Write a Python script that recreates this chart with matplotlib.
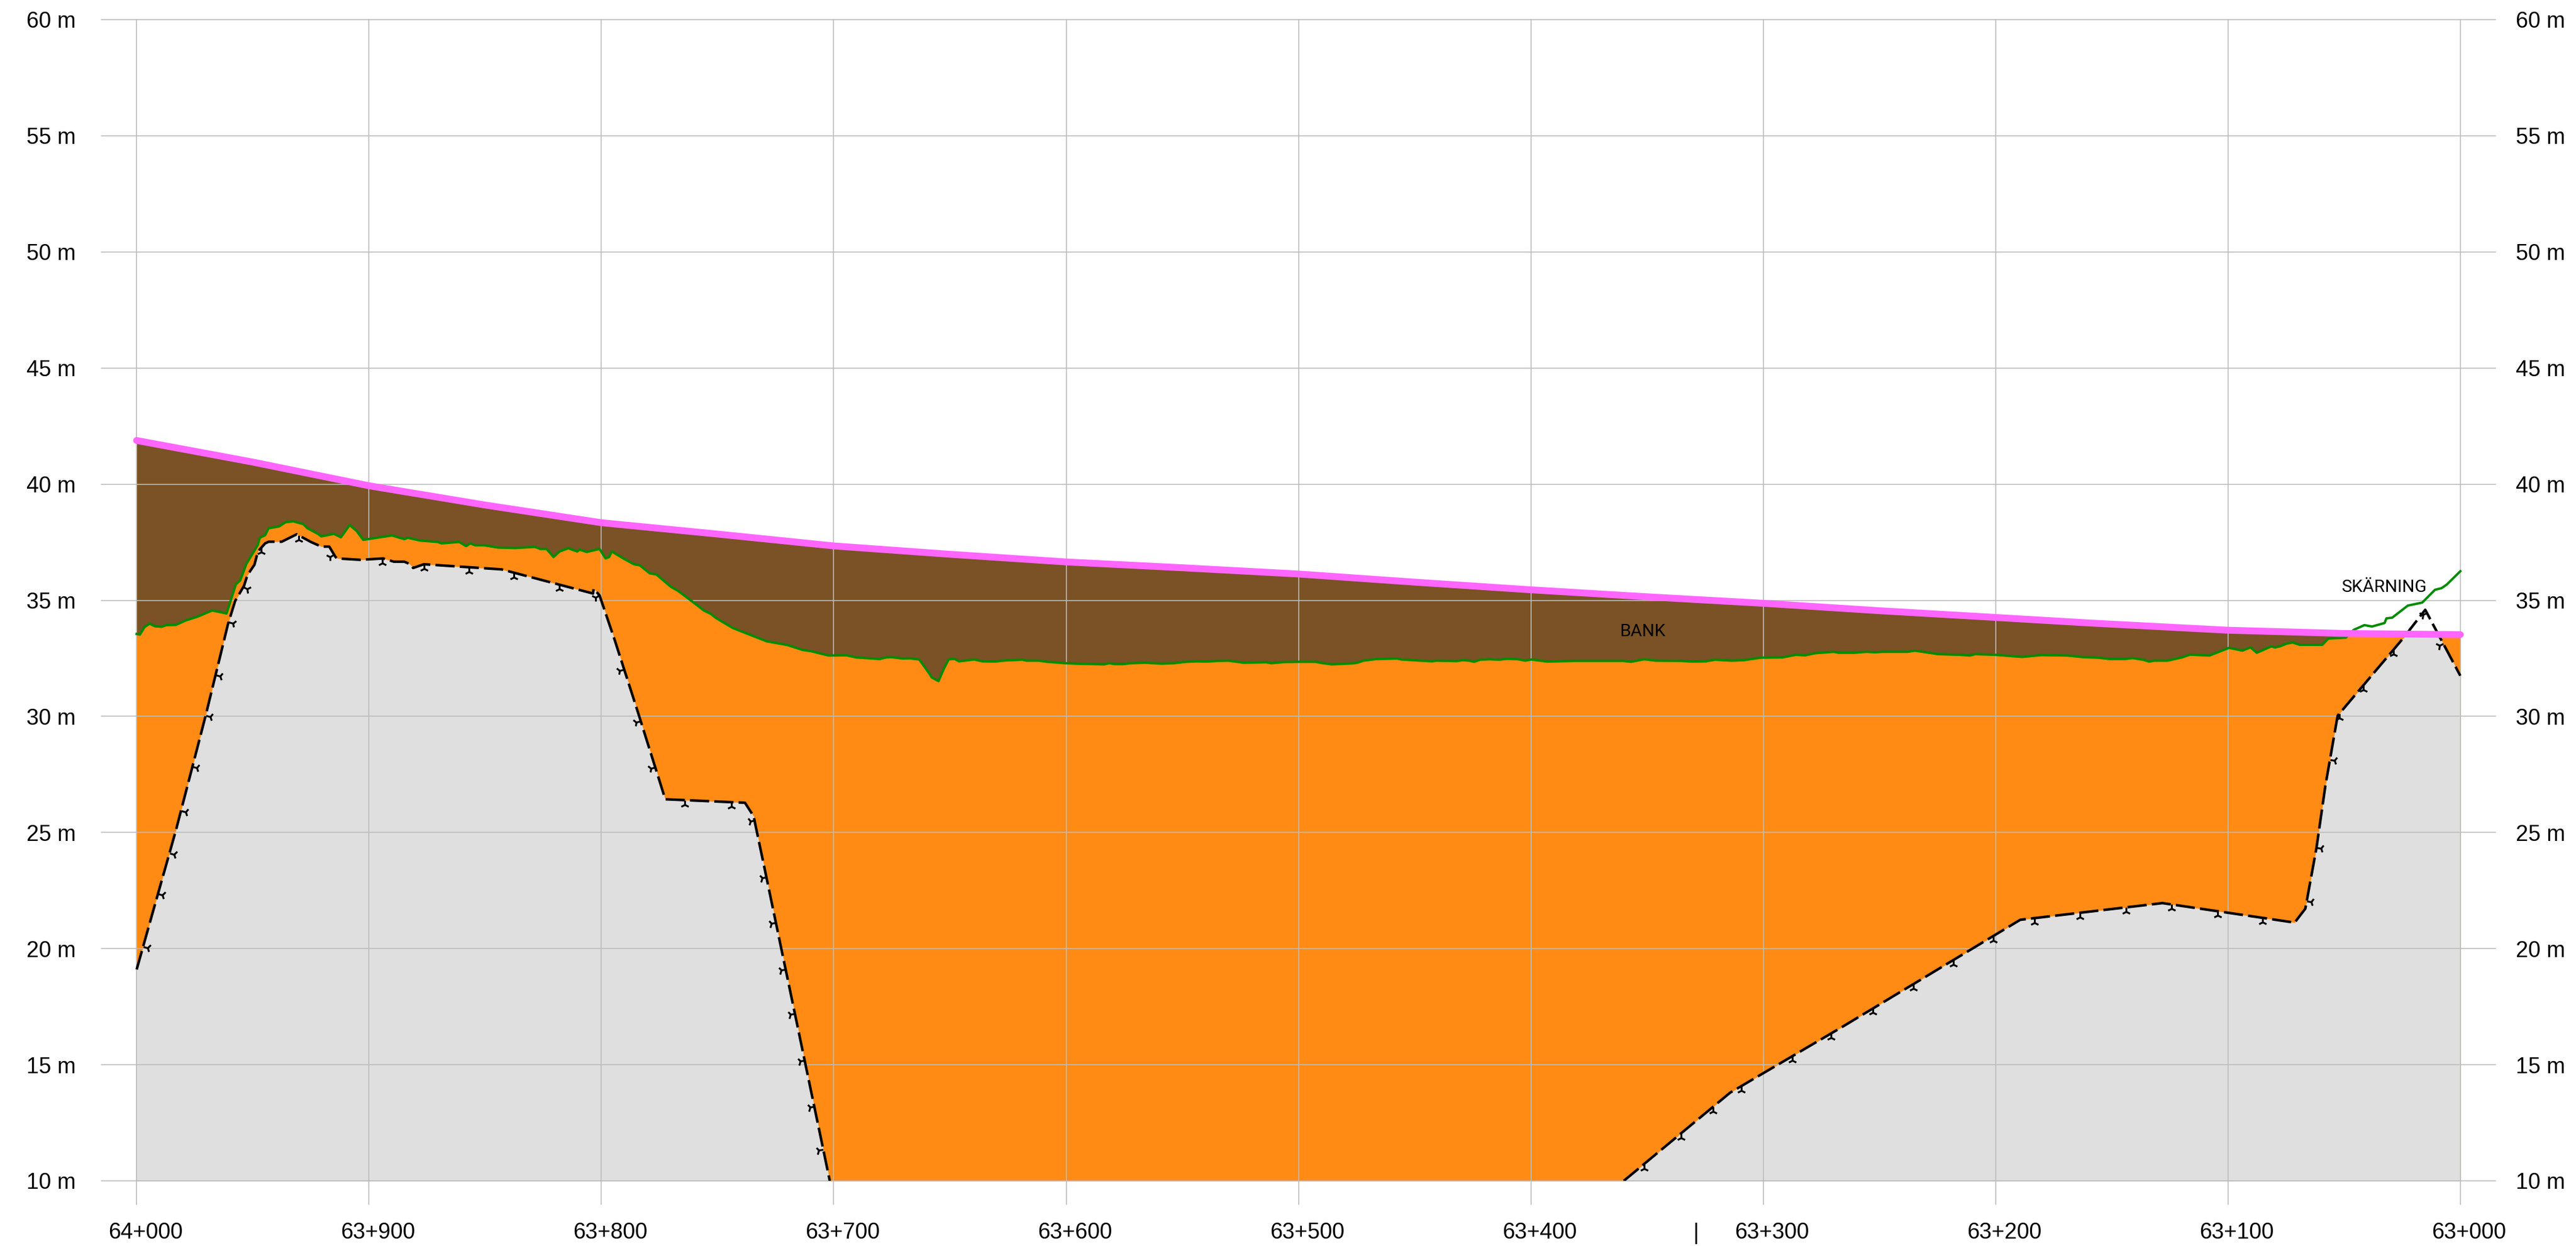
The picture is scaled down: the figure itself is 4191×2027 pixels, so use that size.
import numpy as np
import matplotlib
matplotlib.use("Agg")
import matplotlib.pyplot as plt
from matplotlib.markers import MarkerStyle
from matplotlib.transforms import Affine2D, blended_transform_factory, ScaledTranslation

plt.rcParams['font.family'] = ['Liberation Sans', 'DejaVu Sans']

# distance along the section in metres from 64+000 (axis runs 64+000 -> 63+000)
road_d = [0, 50, 100, 150, 200, 250, 300, 350, 400, 450, 500, 550, 600, 650, 700,
          750, 800, 840.6, 900, 950, 1000]
road_z = [41.88, 40.95, 39.93, 39.10, 38.34, 37.85, 37.34, 36.98, 36.65, 36.40, 36.13,
          35.78, 35.45, 35.15, 34.87, 34.55, 34.26, 34.02, 33.71, 33.57, 33.52]

terrain_d = [0, 1.4, 3.4, 5.6, 7.9, 10.8, 12.8, 16.9, 21.1, 26.4, 32.5, 38.7, 42.7, 44.6, 47.2,
             52.2, 53, 55.3, 56.8, 61.3, 64.1, 67.4, 71.7, 73.5, 78, 79.5, 84.9, 87.9, 91.7, 94.7,
             97.5, 100.8, 109.9, 115.2, 116.7, 122, 129.6, 131.2, 138.8, 141.8, 143.6, 145.6, 149.4,
             155.5, 163, 171.4, 173.7, 176.4, 179.4, 182, 185.8, 189.6, 190.7, 193.7, 199.2, 201.8,
             203.3, 204.5, 209.8, 214, 216.6, 220.8, 223.7, 229.9, 232.9, 238.8, 244.1, 247, 249.4,
             256.5, 260, 271.2, 280.1, 286.6, 290.1, 297.8, 305.5, 309.6, 319.7, 322.6, 325, 329.7,
             332.7, 336.8, 341.5, 342.1, 345.1, 347.4, 349.5, 352.1, 353.9, 360.4, 364, 369.3, 374,
             381.2, 383, 388.2, 391.8, 399.7, 404.1, 416.4, 418.6, 420.9, 424.4, 427.9, 434.1, 441.1,
             446.4, 451.7, 456.1, 460.5, 465.8, 469.8, 476.4, 486.1, 488.3, 494, 500, 507.3, 509.9,
             514.3, 523.1, 525.3, 528, 533.7, 542.5, 544.3, 557.5, 559.3, 568.1, 570.7, 573.4, 575.6,
             578.2, 582.2, 586.2, 589.7, 594.5, 597.6, 600.3, 606.9, 620.1, 639.5, 643.1, 648.8,
             653.7, 664.2, 669.5, 675.3, 679.2, 686.3, 691.6, 699.1, 708.3, 714, 718, 722.4, 730.3,
             732.5, 739.2, 744.4, 748, 751.5, 762.1, 765.2, 775.3, 785, 789, 791.2, 800, 811.5, 819.8,
             830.9, 837.9, 844, 849.3, 855.5, 859, 863.4, 866.1, 868.3, 874, 880.2, 883.7, 892.1,
             896.1, 900.5, 906.2, 909.7, 912.4, 918.6, 920.3, 922.5, 925.2, 927.8, 930.9, 940.6,
             943.2, 950.7, 954.2, 958.7, 962, 967.4, 968.2, 970.7, 977.4, 983.6, 989.1, 991.9, 994.1,
             1000]
terrain_z = [33.55, 33.52, 33.85, 33.99, 33.88, 33.86, 33.93, 33.94, 34.13, 34.30, 34.56, 34.43, 35.68, 35.86, 36.56,
             37.39, 37.69, 37.80, 38.10, 38.18, 38.36, 38.40, 38.28, 38.10, 37.86, 37.75, 37.86, 37.71, 38.24, 37.98,
             37.60, 37.65, 37.79, 37.63, 37.69, 37.57, 37.51, 37.45, 37.51, 37.33, 37.45, 37.37, 37.37,
             37.27, 37.25, 37.30, 37.21, 37.21, 36.86, 37.10, 37.24, 37.10, 37.18, 37.08, 37.21, 36.80,
             36.86, 37.10, 36.78, 36.55, 36.50, 36.16, 36.11, 35.58, 35.41, 34.97, 34.56, 34.42, 34.23,
             33.81, 33.67, 33.23, 33.07, 32.86, 32.81, 32.62, 32.63, 32.54, 32.47, 32.54, 32.55, 32.49,
             32.50, 32.45, 31.79, 31.68, 31.52, 32.05, 32.46, 32.47, 32.37, 32.45, 32.37, 32.36, 32.41,
             32.44, 32.40, 32.40, 32.35, 32.29, 32.27, 32.24, 32.29, 32.25, 32.25, 32.29, 32.31, 32.27,
             32.29, 32.35, 32.37, 32.36, 32.39, 32.40, 32.31, 32.33, 32.29, 32.34, 32.35, 32.35, 32.30,
             32.24, 32.28, 32.31, 32.40, 32.47, 32.49, 32.45, 32.37, 32.40, 32.38, 32.42, 32.40, 32.35,
             32.44, 32.46, 32.44, 32.48, 32.46, 32.40, 32.45, 32.36, 32.39, 32.39, 32.35, 32.46,
             32.40, 32.39, 32.36, 32.37, 32.44, 32.40, 32.42, 32.53, 32.54, 32.65, 32.63, 32.72, 32.78,
             32.74, 32.74, 32.78, 32.76, 32.78, 32.78, 32.83, 32.68, 32.65, 32.62, 32.68, 32.65, 32.56, 32.64,
             32.62, 32.55, 32.53, 32.47, 32.47, 32.51, 32.44, 32.36, 32.40, 32.40, 32.54, 32.66, 32.62,
             32.78, 32.95, 32.83, 32.97, 32.74, 33.01, 32.97, 33.02, 33.13, 33.18, 33.08, 33.08,
             33.35, 33.39, 33.73, 33.93, 33.87, 34.02, 34.22, 34.25, 34.77, 34.90, 35.45, 35.52, 35.67,
             36.25]

ground_left_d = [0, 17, 29.8, 39.3, 42.4, 46.2, 47.7, 50.7, 52.2, 55.3, 56.8, 62.4, 68.9, 75, 79.5, 82.9,
                 85.6, 86.4, 96.2, 106.1, 110.7, 115.2, 117.5, 119, 123.6, 157, 178.2, 196.4, 196.7, 199.2,
                 205.7, 216.3, 227.5, 261.8, 265.6, 266.2, 269.5, 298.3]
ground_left_z = [19.1, 25.13, 30.07, 33.97, 34.97, 35.62, 36.09, 36.53, 37.1, 37.45, 37.52, 37.52, 37.84, 37.51, 37.31, 37.31,
                 36.86, 36.8, 36.74, 36.8, 36.66, 36.66, 36.56, 36.39, 36.55, 36.33, 35.77, 35.29, 35.5, 35.21,
                 33.3, 30.0, 26.43, 26.28, 25.69, 25.37, 23.8, 10.0]
ground_right_d = [640, 685.8, 734.7, 810.6, 871.8, 928.7, 933.3, 938.1, 941.9, 947.2, 975.2, 984.9, 1000]
ground_right_z = [10.0, 13.8, 16.67, 21.24, 21.96, 21.12, 21.72, 24.34, 26.99, 30.03, 33.34, 34.59, 31.75]

hachure_d = [2.8, 9.2, 14.1, 19.1, 24, 29.7, 34, 39.6, 45.9, 53.7, 69.7, 84.9, 105.6, 123.6, 142.9, 162.3,
             182, 199, 209.8, 216.9, 223.2, 235.8, 255.9, 265.9, 271, 275.1, 279.3, 283.3, 287.5, 291.6, 295.5,
             648.7, 664.6, 678.4, 690.5, 712.4, 729.3, 747.3, 764.6, 781.8, 798.9, 816.7, 836.4, 856.1, 875.6,
             895.6, 915, 933.9, 938.1, 943.9, 947.9, 958.2, 971.2, 985.6, 992.6]

x_ticks = list(range(0, 1001, 100))
x_labels = ['64+000', '63+900', '63+800', '63+700', '63+600', '63+500',
            '63+400', '63+300', '63+200', '63+100', '63+000']
y_ticks = list(range(10, 61, 5))
y_labels = [f'{v} m' for v in y_ticks]

W, H = 4191, 2027
fig = plt.figure(figsize=(W / 100, H / 100), dpi=100, facecolor='white')
L, R, T, B = 165, 4060, 32, 1921
ax = fig.add_axes([L / W, 1 - B / H, (R - L) / W, (B - T) / H])
PX = 378.05 / 100
ax.set_xlim((L - 222.3) / PX, (R - 222.3) / PX)
ax.set_ylim(10, 60)

GRID = '#bcbcbc'
ax.set_xticks(x_ticks, x_labels)
ax.set_yticks(y_ticks, y_labels)
ax.grid(True, color=GRID, lw=1.15, clip_on=False)
for ln in ax.get_xgridlines() + ax.get_ygridlines():
    ln.set_clip_on(False)
ax.tick_params(axis='x', length=28, width=1.15, color=GRID, pad=20, labelsize=26)
ax.tick_params(axis='y', length=0, pad=30, labelsize=26)
shift = ScaledTranslation(14 / 100, 0, fig.dpi_scale_trans)
for lab in ax.get_xticklabels():
    lab.set_transform(lab.get_transform() + shift)
for s in ax.spines.values():
    s.set_visible(False)

axr = ax.twinx()
axr.set_ylim(10, 60)
axr.set_yticks(y_ticks, y_labels)
axr.tick_params(axis='y', length=0, pad=24, labelsize=26)
for s in axr.spines.values():
    s.set_visible(False)
axr.patch.set_visible(False)
ax.set_zorder(axr.get_zorder() + 1)

ground_d = np.array(ground_left_d + ground_right_d)
ground_z = np.array(ground_left_z + ground_right_z)
grid_d = np.unique(np.concatenate([road_d, terrain_d, ground_d]))
road_i = np.interp(grid_d, road_d, road_z)
terr_i = np.interp(grid_d, terrain_d, terrain_z)
grnd_i = np.interp(grid_d, ground_d, ground_z)

ax.fill_between(grid_d, 10, road_i, color='#7a5225', lw=0, zorder=1)
ax.fill_between(grid_d, 10, np.minimum(terr_i, road_i), color='#ff8b14', lw=0, zorder=1.1)
ax.fill_between(grid_d, 10, np.minimum(grnd_i, road_i), color='#dfdfdf', lw=0, zorder=1.2)

ax.plot(terrain_d, terrain_z, color='#008c00', lw=2.8, zorder=3, solid_joinstyle='round')
dash = (0, (7.5, 2.0))
ax.plot(ground_left_d, ground_left_z, color='black', lw=3, ls=dash, zorder=3.1)
ax.plot(ground_right_d, ground_right_z, color='black', lw=3, ls=dash, zorder=3.1)

# hachures follow the ground line and turn with it only where it is steep
for d in hachure_d:
    dz = np.interp(d + 0.5, ground_d, ground_z) - np.interp(d - 0.5, ground_d, ground_z)
    a = np.degrees(np.arctan2(dz * 37.8, PX))
    a = a if abs(a) > 55 else 0
    m = MarkerStyle('2', transform=Affine2D().translate(0, -0.5).rotate_deg(a))
    ax.plot([d], [np.interp(d, ground_d, ground_z)], marker=m, ms=10, mew=2.2,
            color='black', ls='none', zorder=3.2)

ax.plot(road_d, road_z, color='#ff66ff', lw=8, zorder=4, solid_capstyle='round', clip_on=False)

for s, d, z in [('BANK', 648.3, 33.44), ('SKÄRNING', 967.4, 35.37)]:
    ax.text(d, z, s, family=['Roboto', 'DejaVu Sans'], fontweight='normal', fontsize=20.5,
            ha='center', va='baseline', color='black', zorder=5)

tr = blended_transform_factory(ax.transData, ax.transAxes)
ax.text(671, -0.036, '|', transform=tr, ha='center', va='top', fontsize=26, color='black', clip_on=False)

fig.savefig('out.png', dpi=100)
